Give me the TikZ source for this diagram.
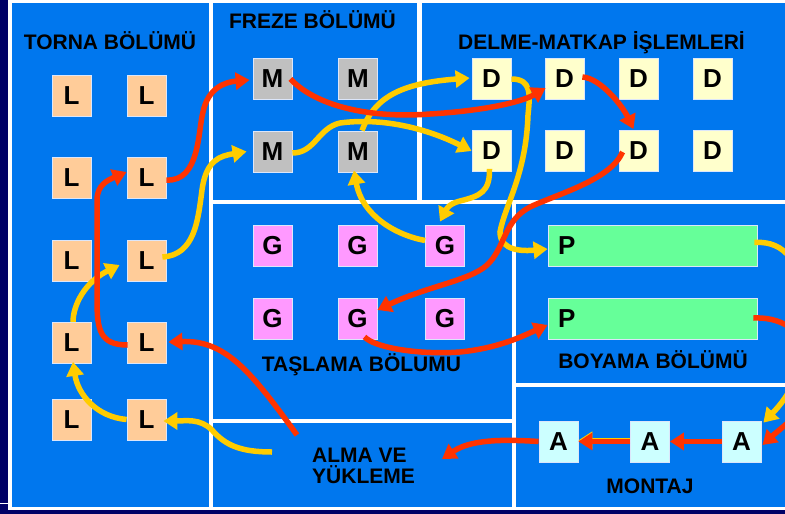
\documentclass[tikz,border=0pt]{standalone}
\usepackage{fontspec}
\setmainfont{Liberation Sans}
\usetikzlibrary{arrows.meta,calc}
\definecolor{navy}{RGB}{0,0,102}
\definecolor{bgblue}{RGB}{0,119,238}
\definecolor{lcol}{RGB}{255,204,153}
\definecolor{mcol}{RGB}{192,192,192}
\definecolor{dcol}{RGB}{255,255,204}
\definecolor{gcol}{RGB}{255,153,255}
\definecolor{pcol}{RGB}{102,255,153}
\definecolor{acol}{RGB}{204,255,255}
\definecolor{redc}{RGB}{255,51,0}
\definecolor{yelc}{RGB}{255,204,0}
\definecolor{boxline}{RGB}{220,230,250}
\newcommand\lettfont{\fontsize{26}{26}\selectfont\bfseries}
\newcommand\ttlfont{\fontsize{21}{21}\selectfont\bfseries}
\begin{document}
\begin{tikzpicture}[x=1pt,y=-1pt,
  box/.style={draw=boxline, line width=0.8pt, minimum width=39pt, minimum height=41pt, inner sep=0pt, font=\lettfont},
  lbox/.style={box, fill=lcol},
  mbox/.style={box, fill=mcol},
  dbox/.style={box, fill=dcol},
  gbox/.style={box, fill=gcol},
  abox/.style={box, fill=acol},
  pbox/.style={box, fill=pcol, minimum width=209pt, text width=189pt, inner xsep=10pt, align=left},
  title/.style={font=\ttlfont, inner sep=0pt, anchor=base},
  rarr/.style={draw=redc, line width=5.5pt, -{Triangle[length=14pt,width=17pt]}},
  yarr/.style={draw=yelc, line width=5.5pt, -{Triangle[length=14pt,width=17pt]}}
]
\useasboundingbox (0,0) rectangle (785,514);
\clip (0,0) rectangle (785,514);
% background and sections
\fill[navy] (0,0) rectangle (785,514);
\fill[white] (8,0) rectangle (785,510);
\draw[white, line width=0.8pt] (0,503) -- (8,503);
\fill[bgblue] (12,3) rectangle (209,507);   % torna
\fill[bgblue] (213,3) rectangle (417,200);  % freze
\fill[bgblue] (422,3) rectangle (785,200);  % delme
\fill[bgblue] (213,204) rectangle (512,419); % taslama
\fill[bgblue] (213,423) rectangle (512,507); % alma
\fill[bgblue] (516,204) rectangle (785,383); % boyama
\fill[bgblue] (516,387) rectangle (785,507); % montaj

% titles
\node[title] (ttorna) at (110,49) {TORNA BÖLÜMÜ};
\node[title] (tfreze) at (312.5,28) {FREZE BÖLÜMÜ};
\node[title] (tdelme) at (601.5,49) {DELME-MATKAP İŞLEMLERİ};
\node[title] (ttaslama) at (361.5,371) {TAŞLAMA BÖLUMU};
\node[title] (tboyama) at (653,368) {BOYAMA BÖLÜMÜ};
\node[title] (tmontaj) at (650,493) {MONTAJ};
\node[font=\ttlfont, inner sep=0pt, align=left, anchor=base west] (alma) at (312,483) {ALMA VE\\YÜKLEME};

% L boxes
\node[lbox] (L11) at (71.5,95.5) {L};
\node[lbox] (L12) at (146.5,95.5) {L};
\node[lbox] (L21) at (71.5,178) {L};
\node[lbox] (L22) at (146.5,178) {L};
\node[lbox] (L31) at (71.5,260.5) {L};
\node[lbox] (L32) at (146.5,260.5) {L};
\node[lbox] (L41) at (71.5,343) {L};
\node[lbox] (L42) at (146.5,343) {L};
\node[lbox] (L51) at (71.5,419.5) {L};
\node[lbox] (L52) at (146.5,419.5) {L};
% M boxes
\node[mbox] (M11) at (272.5,79) {M};
\node[mbox] (M12) at (358,79) {M};
\node[mbox] (M21) at (272.5,151.5) {M};
\node[mbox] (M22) at (358,151.5) {M};
% D boxes
\node[dbox] (D11) at (491.5,79) {D};
\node[dbox] (D12) at (564.5,79) {D};
\node[dbox] (D13) at (638.5,79) {D};
\node[dbox] (D14) at (712.5,79) {D};
\node[dbox] (D21) at (491.5,151) {D};
\node[dbox] (D22) at (564.5,151) {D};
\node[dbox] (D23) at (638.5,151) {D};
\node[dbox] (D24) at (712.5,151) {D};
% G boxes
\node[gbox] (G11) at (272.5,245.5) {G};
\node[gbox] (G12) at (357.5,245.5) {G};
\node[gbox] (G13) at (445,245.5) {G};
\node[gbox] (G21) at (272.5,319) {G};
\node[gbox] (G22) at (357.5,319) {G};
\node[gbox] (G23) at (445,319) {G};
% P boxes
\node[pbox] (P1) at (652.5,245.5) {P};
\node[pbox] (P2) at (652.5,319) {P};
% A boxes
\node[abox] (A1) at (558.5,441.5) {A};
\node[abox] (A2) at (650,441.5) {A};
\node[abox] (A3) at (741.5,441.5) {A};

\coordinate (y1s) at (272,452);
\coordinate (r1s) at (297,435);
\coordinate (r11e) at (442,459);

% yellow route
\draw[yarr] (y1s) .. controls (240,452) and (225,445) .. (212,430) .. controls (200,418) and (185,421) .. ($(L52.east)+(-3,1.5)$);
\draw[yarr] (L52.west) .. controls (97,417) and (78,395) .. ($(L41.south)+(1.5,-2)$);
\draw[yarr] ($(L41.north)+(1.5,0)$) .. controls (73,305) and (85,282) .. ($(L32.west)+(-7,4.5)$);
\draw[yarr] ($(L32.east)+(-4,-3.5)$) .. controls (195,255) and (198,220) .. (202,190) .. controls (206,160) and (220,156) .. ($(M21.west)+(-6,0)$);
\draw[yarr] ($(M21.east)+(0,1.5)$) .. controls (315,153) and (318,128) .. (340,123) .. controls (385,117) and (430,130) .. (D21.west);
\draw[yarr] ($(M22.north)+(4,0)$) .. controls (375,95) and (405,83) .. ($(D11.west)+(-2,-1)$);
\draw[yarr] (D11.east) .. controls (532,79) and (530,95) .. (528,115) .. controls (526,175) and (505,205) .. (500,232) .. controls (500,252) and (525,251) .. ($(P1.west)+(0,3.5)$);
\draw[yarr] ($(D21.south)+(-2,-3)$) .. controls (490,192) and (480,196) .. (460,201) .. controls (448,204) and (446,210) .. ($(G13.north)+(-5,-3)$);
\draw[yarr] ($(G13.west)+(0,-5)$) .. controls (395,235) and (362,215) .. ($(M22.south)+(-4,-2)$);
\draw[yarr] ($(P1.east)+(-3,-3)$) .. controls (775,241) and (805,250) .. (805,320) .. controls (805,370) and (790,395) .. ($(A3.north east)+(2,2)$);
\draw[yarr] ($(A2.west)+(0,-1.2)$) -- ($(A1.east)+(0,-1.2)$);

% red route
\draw[rarr] (r1s) .. controls (250,370) and (225,340) .. ($(L42.east)+(2,-1)$);
\draw[rarr] ($(L42.west)+(1,2)$) .. controls (100,345) and (97,330) .. (97,300) -- (97,200) .. controls (97,185) and (108,180) .. ($(L22.west)+(0,-6)$);
\draw[rarr] ($(L22.east)+(0,2)$) .. controls (200,182) and (198,130) .. (203,112) .. controls (208,88) and (225,82) .. ($(M11.west)+(-3,1)$);
\draw[rarr] ($(M11.east)+(-2,0)$) .. controls (320,110) and (380,118) .. (430,114) .. controls (480,111) and (520,103) .. ($(D12.west)+(1,9)$);
\draw[rarr] ($(D12.east)+(-2,-2)$) .. controls (600,78) and (622,105) .. ($(D23.north)+(-5,-1)$);
\draw[rarr] ($(D23.west)+(4,1)$) .. controls (610,180) and (560,193) .. (530,207) .. controls (505,220) and (505,245) .. (490,262) .. controls (475,280) and (430,285) .. ($(G22.east)+(0,-9)$);
\draw[rarr] ($(G22.south)+(7,-3)$) .. controls (375,348) and (420,355) .. (460,352) .. controls (500,348) and (525,335) .. ($(P2.west)+(0,6)$);
\draw[rarr] ($(P2.east)+(-4,-1)$) .. controls (775,317) and (810,325) .. (810,375) .. controls (810,410) and (790,420) .. ($(A3.east)+(1,3.5)$);
\draw[rarr] (A3.west) -- (A2.east);
\draw[rarr] (A2.west) -- (A1.east);
\draw[rarr] (A1.west) .. controls (500,439) and (470,440) .. (r11e);
\end{tikzpicture}
\end{document}
